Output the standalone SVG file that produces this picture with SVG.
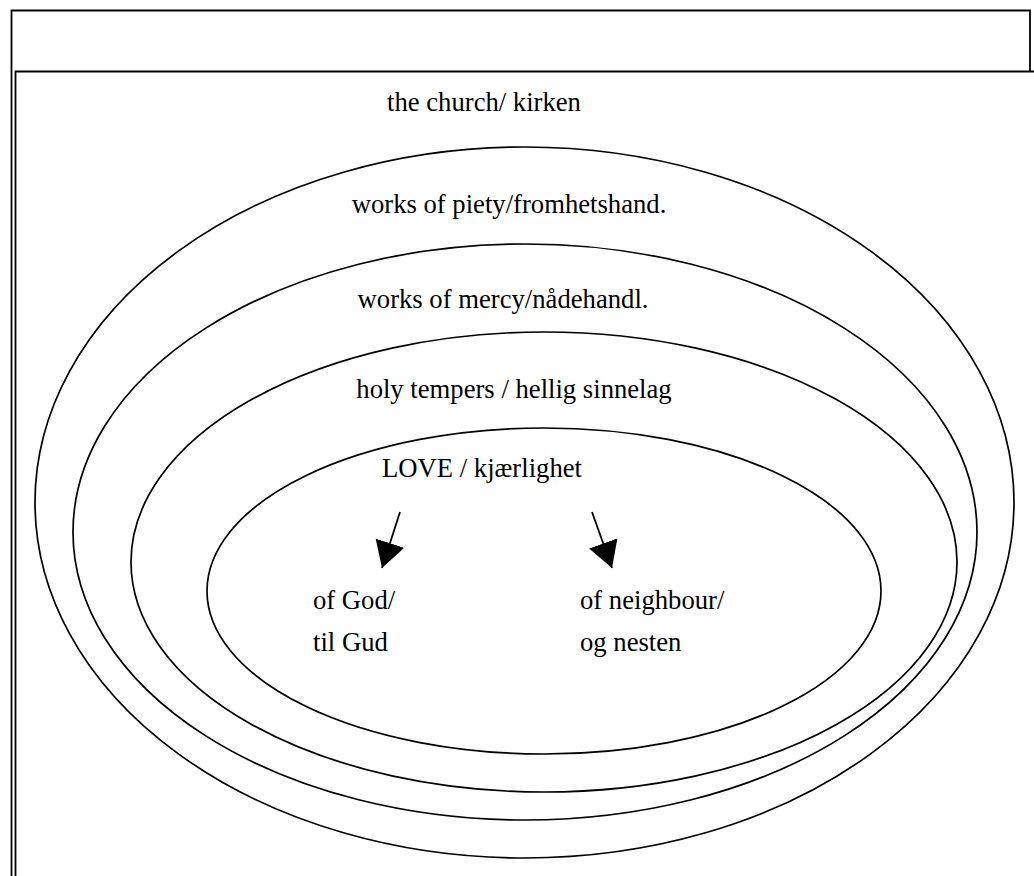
<svg xmlns="http://www.w3.org/2000/svg" width="1034" height="876" viewBox="0 0 1034 876">
<style>
.frame{fill:none;stroke:#000;stroke-width:1.8}
.ring{fill:none;stroke:#000;stroke-width:1.7}
.lbl{font-family:"Liberation Serif","Times New Roman",serif;font-size:26.67px;fill:#000}
.conn{stroke:#000;stroke-width:1.8;fill:none}
</style>
<defs>
<marker id="ah" viewBox="0 0 26 30" refX="26" refY="15" markerWidth="26" markerHeight="30" markerUnits="userSpaceOnUse" orient="auto">
<path d="M0,0 L26,15 L0,30 Z" fill="#000"/>
</marker>
</defs>
<rect width="1034" height="876" fill="#fff"/>
<g id="frame">
<path class="frame" d="M11.5,876 V10.5 H1030 V71"/>
<path class="frame" d="M15.5,876 V71.5 H1034"/>
</g>
<g id="church">
<text class="lbl" x="484" y="111" text-anchor="middle">the church/ kirken</text>
</g>
<g id="piety">
<ellipse class="ring" cx="524.5" cy="502.5" rx="489.5" ry="355.5"/>
<text class="lbl" x="509" y="213" text-anchor="middle">works of piety/fromhetshand.</text>
</g>
<g id="mercy">
<ellipse class="ring" cx="525" cy="532" rx="452" ry="288"/>
<text class="lbl" x="503" y="308" text-anchor="middle">works of mercy/nådehandl.</text>
</g>
<g id="tempers">
<ellipse class="ring" cx="544" cy="562" rx="413" ry="230"/>
<text class="lbl" x="514" y="398" text-anchor="middle">holy tempers / hellig sinnelag</text>
</g>
<g id="love">
<ellipse class="ring" cx="544" cy="591" rx="337" ry="163"/>
<text class="lbl" x="482" y="477" text-anchor="middle">LOVE / kjærlighet</text>
</g>
<g id="god">
<text class="lbl" x="313" y="609">of God/</text>
<text class="lbl" x="313" y="651">til Gud</text>
</g>
<g id="neighbour">
<text class="lbl" x="580" y="609">of neighbour/</text>
<text class="lbl" x="580" y="651">og nesten</text>
</g>
<g id="connectors">
<line class="conn" x1="400" y1="512" x2="382" y2="568" marker-end="url(#ah)"/>
<line class="conn" x1="592" y1="512" x2="612" y2="568" marker-end="url(#ah)"/>
</g>
</svg>
